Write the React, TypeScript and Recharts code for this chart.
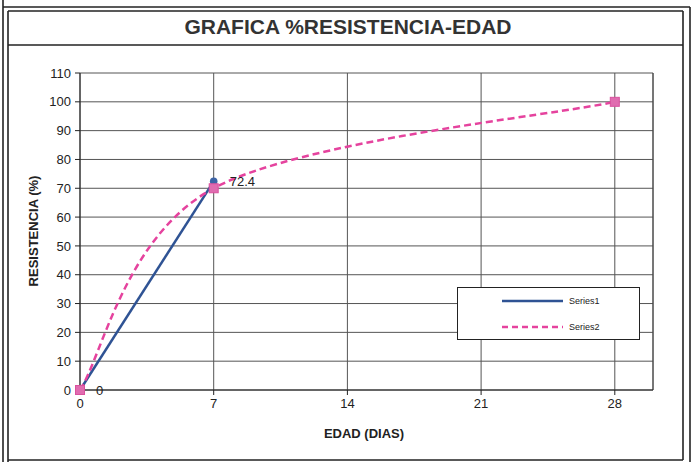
import {
  LineChart,
  Line,
  XAxis,
  YAxis,
  CartesianGrid,
  LabelList,
  Legend,
  ReferenceLine,
} from "recharts";

// values
const dias1 = [0, 7];
const resistencia1 = [0, 72.4];
const dias2 = [0, 7, 28];
const resistencia2 = [0, 70, 100];
const xTicks = [0, 7, 14, 21, 28];
const yTicks = [0, 10, 20, 30, 40, 50, 60, 70, 80, 90, 100, 110];
const seriesNames = ["Series1", "Series2"];

const series1 = dias1.map((x, i) => ({ x, y: resistencia1[i] }));
const series2 = dias2.map((x, i) => ({ x, y: resistencia2[i] }));

const FONT = "'Liberation Sans', Arial, sans-serif";
const BLUE = "#2f5394";
const PINK = "#e5439e";
const INK = "#222";

// Excel style smoothed line (Catmull-Rom, end points repeated)
function excelSmooth(context: any) {
  let pts: number[][] = [];
  return {
    areaStart() {},
    areaEnd() {},
    lineStart() {
      pts = [];
    },
    point(x: number, y: number) {
      pts.push([+x, +y]);
    },
    lineEnd() {
      const n = pts.length;
      if (!n) return;
      context.moveTo(pts[0][0], pts[0][1]);
      for (let i = 0; i < n - 1; i++) {
        const p0 = pts[Math.max(i - 1, 0)];
        const p1 = pts[i];
        const p2 = pts[i + 1];
        const p3 = pts[Math.min(i + 2, n - 1)];
        context.bezierCurveTo(
          p1[0] + (p2[0] - p0[0]) / 6,
          p1[1] + (p2[1] - p0[1]) / 6,
          p2[0] - (p3[0] - p1[0]) / 6,
          p2[1] - (p3[1] - p1[1]) / 6,
          p2[0],
          p2[1]
        );
      }
    },
  };
}

const SquareDot = (props: any) => {
  const { cx, cy, index } = props;
  return (
    <rect
      key={`sq-${index}`}
      x={cx - 4.5}
      y={cy - 4.5}
      width={9}
      height={9}
      fill="#e06cb0"
      stroke="#d9519e"
      strokeWidth={1}
    />
  );
};

const RoundDot = (props: any) => {
  const { cx, cy, index } = props;
  return <circle key={`rd-${index}`} cx={cx} cy={cy} r={3.8} fill="#3d64a6" />;
};

const renderLegend = () => (
  <div
    style={{
      width: 183,
      height: 53,
      boxSizing: "border-box",
      border: `1px solid ${INK}`,
      background: "#fff",
    }}
  >
    <svg width={181} height={51}>
      <line x1={44} y1={13} x2={105} y2={13} stroke={BLUE} strokeWidth={2.5} />
      <line x1={44} y1={39} x2={105} y2={39} stroke={PINK} strokeWidth={2.5} strokeDasharray="6 4" />
      <text x={111} y={16} fontSize={9} fontFamily={FONT} fill={INK}>
        {seriesNames[0]}
      </text>
      <text x={111} y={42} fontSize={9} fontFamily={FONT} fill={INK}>
        {seriesNames[1]}
      </text>
    </svg>
  </div>
);

export default function App() {
  return (
    <div style={{ position: "absolute", left: 0, top: 0, width: 696, height: 462, background: "#fff" }}>
      <LineChart width={696} height={462} margin={{ top: 73, right: 43, bottom: 0, left: 0 }}>
        <CartesianGrid stroke="#555" strokeWidth={1} />
        <XAxis
          type="number"
          dataKey="x"
          domain={[0, 30]}
          ticks={xTicks}
          height={72}
          tickSize={5}
          tickMargin={4}
          stroke={INK}
          tick={{ fontSize: 13, fill: INK, fontFamily: FONT }}
          label={{
            content: () => (
              <text x={364} y={438} textAnchor="middle" fontSize={13} fontWeight="bold" fontFamily={FONT} fill={INK}>
                EDAD (DIAS)
              </text>
            ),
          }}
        />
        <YAxis
          type="number"
          domain={[0, 110]}
          ticks={yTicks}
          width={80}
          tickSize={5}
          tickMargin={4}
          stroke={INK}
          tick={{ fontSize: 13, fill: INK, fontFamily: FONT }}
          label={{
            content: () => (
              <text
                transform="translate(38,231) rotate(-90)"
                textAnchor="middle"
                fontSize={13}
                fontWeight="bold"
                fontFamily={FONT}
                fill={INK}
              >
                RESISTENCIA (%)
              </text>
            ),
          }}
        />
        <ReferenceLine x={30} stroke="#444" />
        <Line
          data={series1}
          dataKey="y"
          name={seriesNames[0]}
          type="linear"
          stroke={BLUE}
          strokeWidth={2.5}
          dot={RoundDot}
          activeDot={false}
          isAnimationActive={false}
        >
          <LabelList dataKey="y" position="right" offset={16} fontSize={13} fontFamily={FONT} fill={INK} />
        </Line>
        <Line
          data={series2}
          dataKey="y"
          name={seriesNames[1]}
          type={excelSmooth as any}
          stroke={PINK}
          strokeWidth={2.5}
          strokeDasharray="7 4"
          dot={SquareDot}
          activeDot={false}
          isAnimationActive={false}
        />
        <Legend
          layout="horizontal"
          verticalAlign="middle"
          align="center"
          content={renderLegend}
          wrapperStyle={{ position: "absolute", left: 457, top: 287, width: 183, height: 53 }}
        />
      </LineChart>
      <svg
        width={696}
        height={462}
        style={{ position: "absolute", left: 0, top: 0, pointerEvents: "none" }}
      >
        <g stroke={INK} strokeWidth={1.6} fill="none">
          <line x1={3} y1={0} x2={3} y2={462} />
          <line x1={8} y1={11} x2={8} y2={462} />
          <line x1={3} y1={7} x2={690} y2={7} />
          <line x1={8} y1={11} x2={683} y2={11} />
          <line x1={690} y1={7} x2={690} y2={462} />
          <line x1={683} y1={11} x2={683} y2={460} />
          <line x1={8} y1={45} x2={683} y2={45} />
          <line x1={8} y1={460} x2={683} y2={460} />
        </g>
        <text x={348} y={34} textAnchor="middle" fontSize={21} fontWeight="bold" fontFamily={FONT} fill="#333">
          GRAFICA %RESISTENCIA-EDAD
        </text>
      </svg>
    </div>
  );
}
